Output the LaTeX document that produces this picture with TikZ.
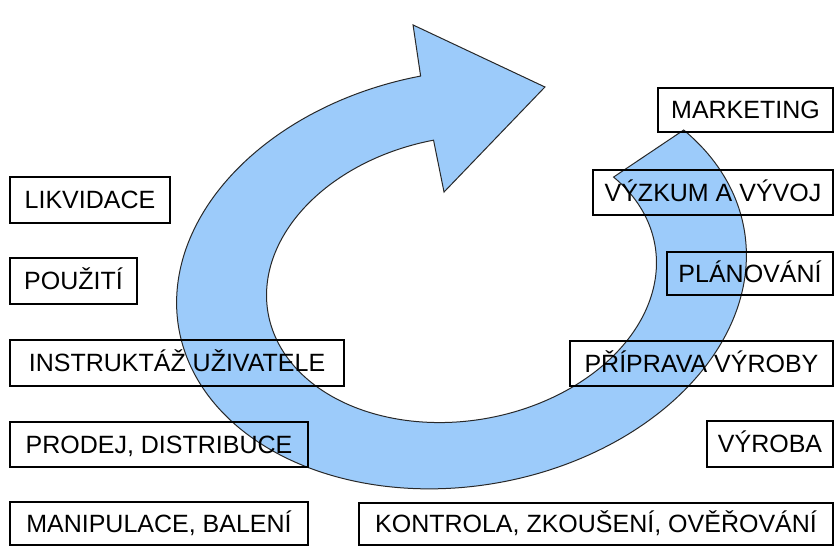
\documentclass[tikz,border=0pt]{standalone}
\usepackage{fontspec}
\setmainfont{Liberation Sans}
\definecolor{arrowblue}{RGB}{156,203,250}
\definecolor{arrowline}{RGB}{40,40,40}
\tikzset{
  stagebox/.style={draw=black, line width=2.2pt, inner sep=0pt, text height=17.9pt, text depth=0pt,
    font=\fontsize{25}{30}\selectfont, align=center},
  cyclearrow/.style={fill=arrowblue, draw=arrowline, line width=1pt, line join=miter}
}
\newcommand{\stage}[6]{% name, x1, y1, x2, y2, text
  \node[stagebox, minimum width={(#4-#2)*1pt}, minimum height={(#5-#3)*1pt}]
    (#1) at ({(#2+#4)/2},{-(#3+#5)/2}) {#6};}
\begin{document}
\begin{tikzpicture}[x=1pt,y=1pt]
\useasboundingbox (0,0) rectangle (836,-547);
\fill[white] (0,0) rectangle (836,-547);
% circular arrow
\begin{scope}[shift={(461.5,-279)}, rotate=10]
  \draw[cyclearrow]
    plot[domain=0:300.5, samples=160, smooth] ({287*cos(31.5-\x)},{207*sin(31.5-\x)})
    -- (-3.6,258.6) -- (115.5,174.6) -- (-2.1,88.7)
    -- plot[domain=0:300.5, samples=160, smooth] ({196.4*cos(-269+\x)},{141.6*sin(-269+\x)})
    -- cycle;
\end{scope}
% boxes
\stage{mkt}{658}{88}{833}{132}{MARKETING}
\stage{vyv}{593}{170}{833}{215}{VÝZKUM A VÝVOJ}
\stage{plan}{667}{252}{833}{295}{PLÁNOVÁNÍ}
\stage{prip}{570}{341}{833}{386}{PŘÍPRAVA VÝROBY}
\stage{vyr}{707}{421}{833}{467}{VÝROBA}
\stage{kontr}{359}{503}{833}{545}{KONTROLA, ZKOUŠENÍ, OVĚŘOVÁNÍ}
\stage{likv}{10}{177}{170}{223}{LIKVIDACE}
\stage{pouz}{10}{258}{137}{304}{POUŽITÍ}
\stage{instr}{10}{340}{344}{386}{INSTRUKTÁŽ UŽIVATELE}
\stage{prod}{10}{422}{308}{467}{PRODEJ, DISTRIBUCE}
\stage{manip}{10}{502}{308}{545}{MANIPULACE, BALENÍ}
\end{tikzpicture}
\end{document}
